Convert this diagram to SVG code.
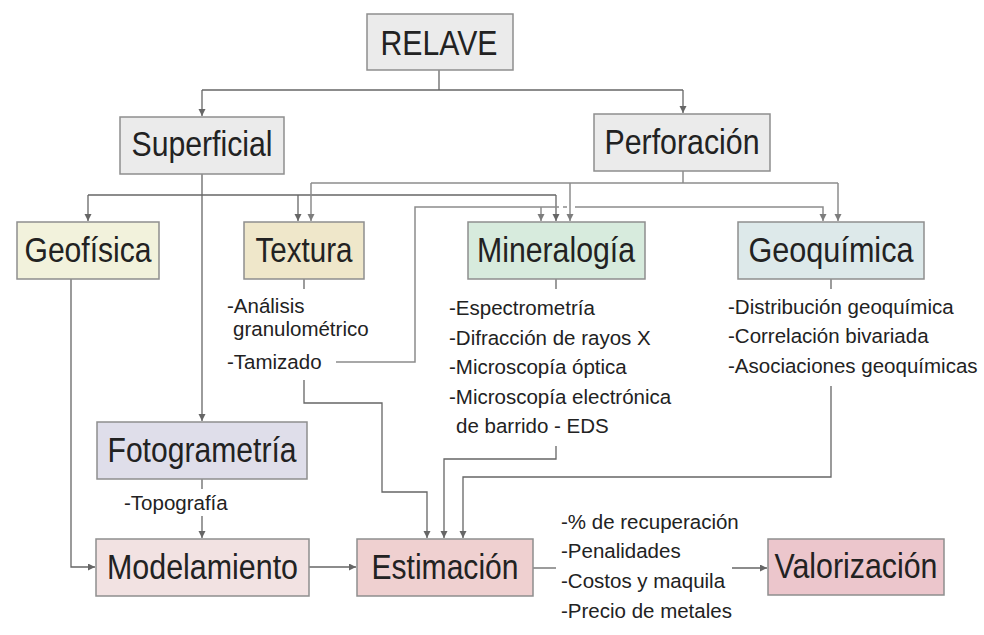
<svg xmlns="http://www.w3.org/2000/svg" width="984" height="635" viewBox="0 0 984 635">
<style>
.box{stroke:#8e8e8e;stroke-width:1.5}
.lbl{font-family:"Liberation Sans",Arial,sans-serif;font-size:35px;fill:#222;text-anchor:middle}
.lst{font-family:"Liberation Sans",Arial,sans-serif;font-size:20.5px;fill:#222}
.c{fill:none;stroke:#666666;stroke-width:1.3}
.cl{fill:none;stroke:#8c8c8c;stroke-width:1.5}
</style>
<defs>
<marker id="ah" markerUnits="userSpaceOnUse" markerWidth="8" markerHeight="8" refX="7" refY="3.5" orient="auto">
<path d="M0,0 L7,3.5 L0,7 z" fill="#666666"/>
</marker>
<marker id="ahl" markerUnits="userSpaceOnUse" markerWidth="8" markerHeight="8" refX="7" refY="3.5" orient="auto">
<path d="M0,0 L7,3.5 L0,7 z" fill="#7d7d7d"/>
</marker>
</defs>
<rect width="984" height="635" fill="#ffffff"/>

<g id="connectors">
<!-- RELAVE -->
<path class="c" d="M439,70 V90"/>
<path class="c" d="M202,90 H683"/>
<path class="c" d="M202,90 V116" marker-end="url(#ah)"/>
<path class="c" d="M683,90 V113" marker-end="url(#ah)"/>
<!-- Superficial -->
<path class="c" d="M202,174 V421" marker-end="url(#ah)"/>
<path class="c" d="M88,195 H556"/>
<path class="c" d="M88,195 V221" marker-end="url(#ah)"/>
<path class="c" d="M298,195 V221" marker-end="url(#ah)"/>
<path class="c" d="M556,195 V221" marker-end="url(#ah)"/>
<!-- Perforacion -->
<path class="cl" d="M683,171 V183"/>
<path class="cl" d="M311,183 H838"/>
<path class="cl" d="M311,183 V221" marker-end="url(#ahl)"/>
<path class="cl" d="M570,183 V221" marker-end="url(#ahl)"/>
<path class="cl" d="M838,183 V221" marker-end="url(#ahl)"/>
<!-- Tamizado -->
<path class="cl" d="M336,362 H415 V207 H559"/>
<path class="cl" d="M563,207 H567"/>
<path class="cl" d="M575,207 H823 V221" marker-end="url(#ahl)"/>
<path class="cl" d="M541,207 V221" marker-end="url(#ahl)"/>
<!-- Geofisica -->
<path class="c" d="M71,279 V567 H95" marker-end="url(#ah)"/>
<!-- Textura -->
<path class="c" d="M304,279 V289"/>
<path class="c" d="M304,380 V403 H382 V492 H427 V538" marker-end="url(#ah)"/>
<!-- Mineralogia -->
<path class="c" d="M556,279 V289"/>
<path class="c" d="M556,446 V459 H444 V538" marker-end="url(#ah)"/>
<!-- Geoquimica -->
<path class="c" d="M831,279 V289"/>
<path class="c" d="M831,386 V477 H463 V538" marker-end="url(#ah)"/>
<!-- Fotogrametria -->
<path class="c" d="M202,479 V489"/>
<path class="c" d="M202,516 V538" marker-end="url(#ah)"/>
<!-- Modelamiento -> Estimacion -->
<path class="c" d="M309,567 H356" marker-end="url(#ah)"/>
<!-- Estimacion -> Valorizacion -->
<path class="c" d="M533,568 H556"/>
<path class="c" d="M732,568 H767" marker-end="url(#ah)"/>
</g>

<g id="relave">
<rect class="box" x="367" y="14" width="146" height="56" fill="#ebebeb"/>
<text class="lbl" x="439" y="55" textLength="117" lengthAdjust="spacingAndGlyphs">RELAVE</text>
</g>
<g id="superficial">
<rect class="box" x="120" y="117" width="164" height="57" fill="#ebebeb"/>
<text class="lbl" x="202" y="156" textLength="141" lengthAdjust="spacingAndGlyphs">Superficial</text>
</g>
<g id="perforacion">
<rect class="box" x="594" y="114" width="176" height="57" fill="#ebebeb"/>
<text class="lbl" x="682" y="154" textLength="155" lengthAdjust="spacingAndGlyphs">Perforación</text>
</g>
<g id="geofisica">
<rect class="box" x="17" y="222" width="142" height="57" fill="#f2f2dc"/>
<text class="lbl" x="88" y="262" textLength="127" lengthAdjust="spacingAndGlyphs">Geofísica</text>
</g>
<g id="textura">
<rect class="box" x="244" y="222" width="120" height="57" fill="#efe7ca"/>
<text class="lbl" x="304" y="262" textLength="97" lengthAdjust="spacingAndGlyphs">Textura</text>
<text class="lst" x="227" y="313">-Análisis</text>
<text class="lst" x="233" y="336">granulométrico</text>
<text class="lst" x="227" y="369">-Tamizado</text>
</g>
<g id="mineralogia">
<rect class="box" x="468" y="222" width="177" height="57" fill="#d7ebdd"/>
<text class="lbl" x="556" y="262" textLength="158" lengthAdjust="spacingAndGlyphs">Mineralogía</text>
<text class="lst" x="449" y="315">-Espectrometría</text>
<text class="lst" x="449" y="345">-Difracción de rayos X</text>
<text class="lst" x="449" y="374">-Microscopía óptica</text>
<text class="lst" x="449" y="404">-Microscopía electrónica</text>
<text class="lst" x="456" y="433">de barrido - EDS</text>
</g>
<g id="geoquimica">
<rect class="box" x="738" y="222" width="186" height="57" fill="#dde9ea"/>
<text class="lbl" x="831" y="262" textLength="165" lengthAdjust="spacingAndGlyphs">Geoquímica</text>
<text class="lst" x="728" y="314">-Distribución geoquímica</text>
<text class="lst" x="728" y="343">-Correlación bivariada</text>
<text class="lst" x="728" y="373">-Asociaciones geoquímicas</text>
</g>
<g id="fotogrametria">
<rect class="box" x="97" y="422" width="210" height="57" fill="#dfdeea"/>
<text class="lbl" x="202" y="462" textLength="189" lengthAdjust="spacingAndGlyphs">Fotogrametría</text>
<text class="lst" x="124" y="510">-Topografía</text>
</g>
<g id="modelamiento">
<rect class="box" x="96" y="539" width="213" height="57" fill="#f2e2e2"/>
<text class="lbl" x="202.5" y="579" textLength="191" lengthAdjust="spacingAndGlyphs">Modelamiento</text>
</g>
<g id="estimacion">
<rect class="box" x="357" y="539" width="176" height="57" fill="#efd0d0"/>
<text class="lbl" x="445" y="579" textLength="147" lengthAdjust="spacingAndGlyphs">Estimación</text>
<text class="lst" x="561" y="529">-% de recuperación</text>
<text class="lst" x="561" y="558">-Penalidades</text>
<text class="lst" x="561" y="588">-Costos y maquila</text>
<text class="lst" x="561" y="618">-Precio de metales</text>
</g>
<g id="valorizacion">
<rect class="box" x="768" y="539" width="176" height="56" fill="#ecc6cc"/>
<text class="lbl" x="856" y="578" textLength="163" lengthAdjust="spacingAndGlyphs">Valorización</text>
</g>
</svg>
